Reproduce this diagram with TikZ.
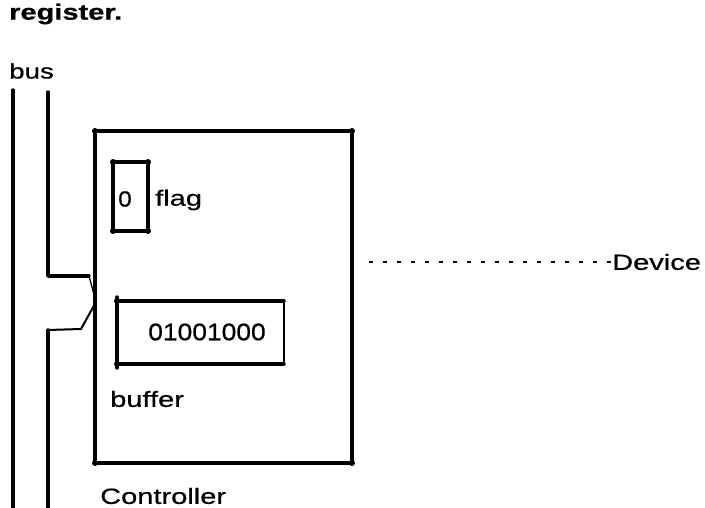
\documentclass[tikz,border=0pt]{standalone}
\usepackage{fontspec}
\setmainfont{Liberation Sans}
\newfontfamily\lab[FakeStretch=1.32,FakeBold=0.6]{Liberation Sans}
\newfontfamily\labd[FakeStretch=1.1,FakeBold=0.6]{Liberation Sans}
\begin{document}
\begin{tikzpicture}[x=1pt,y=-1pt,
  thick line/.style={line width=3.4pt,line cap=round},
  thin line/.style={line width=2pt,line cap=round},
  txt/.style={inner sep=0pt,font=\lab\fontsize{22}{24}\selectfont},
  corner/.style={circle,fill,inner sep=0pt,minimum size=6pt}]
\fill[white] (0,0) rectangle (705,508);
\useasboundingbox (0,0) rectangle (705,508);
% texts
\node[txt,anchor=west,font=\lab\bfseries\fontsize{22}{24}\selectfont] (reg) at (9,14) {register.};
\node[txt,anchor=west,font=\lab\fontsize{21}{24}\selectfont] (bus) at (9,71) {bus};
% bus lines
\coordinate (b1t) at (13,90);
\coordinate (b1b) at (13,508);
\draw[thick line] (b1t) -- (b1b);
\coordinate (b2t) at (48,92);
\coordinate (b2a) at (48,276);
\coordinate (b2b) at (89,276);
\coordinate (tip) at (96,302);
\coordinate (b2c) at (81,329);
\coordinate (b2d) at (48,330);
\coordinate (b2e) at (48,508);
\draw[thick line,line join=round] (b2t) -- (b2a) -- (b2b);
\draw[line width=1.3pt] (b2b) -- (tip);
\draw[thin line,line join=round] (tip) -- (b2c) -- (b2d);
\draw[thick line] (b2d) -- (b2e);
% controller box
\coordinate (c1) at (95,131);
\coordinate (c2) at (352,131);
\coordinate (c3) at (352,463);
\coordinate (c4) at (95,463);
\draw[thick line,line join=round] (c1) -- (c2) -- (c3) -- (c4) -- cycle;
\foreach \c in {c1,c2,c3,c4} \node[corner] at (\c) {};
% flag box
\coordinate (f1) at (113,162);
\coordinate (f2) at (148,162);
\coordinate (f3) at (148,231);
\coordinate (f4) at (113,231);
\draw[thick line,line join=round] (f1) -- (f2) -- (f3) -- (f4) -- cycle;
\foreach \c in {f1,f2,f3,f4} \node[corner] at (\c) {};
\node[txt,font=\labd\fontsize{22}{24}\selectfont] (zero) at (125,199) {0};
\node[txt,anchor=west] (flag) at (155,200) {flag};
% buffer box
\coordinate (u1) at (117,301);
\coordinate (u2) at (284,301);
\coordinate (u3) at (284,364);
\coordinate (u4) at (117,364);
\draw[thick line] (u1) -- (u2);
\draw[line width=1.5pt] (u2) -- (u3);
\draw[thick line] (u3) -- (u4);
\draw[thick line] (117,297) -- (117,368);
\node[corner] at (u1) {};
\node[corner] at (u4) {};
\node[txt,font=\labd\fontsize{24}{26}\selectfont] (bits) at (207,332) {01001000};
\node[txt,anchor=west] (buffer) at (110,399) {buffer};
\node[txt,anchor=west] (ctrl) at (100,496) {Controller};
% device
\node[txt,anchor=west] (dev) at (612,262) {Device};
\coordinate (ds) at (369,262);
\draw[line width=1.6pt,dash pattern=on 4pt off 10pt] (ds) -- (dev.west);
\end{tikzpicture}
\end{document}
